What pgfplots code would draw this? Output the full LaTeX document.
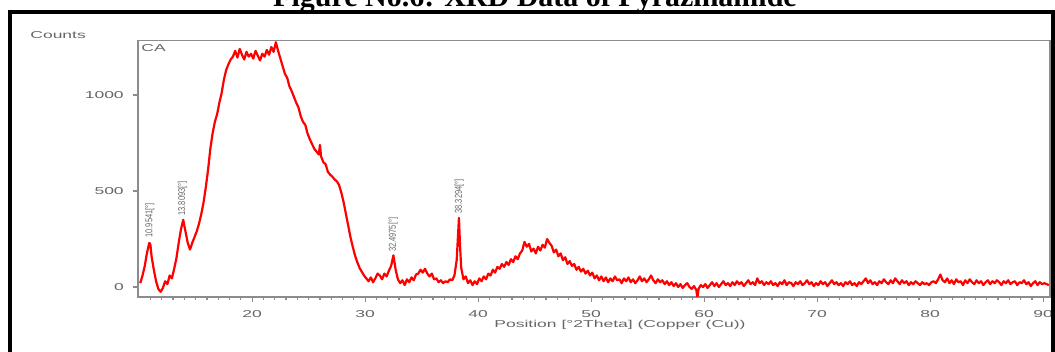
\documentclass[border=0pt]{standalone}
\usepackage{pgfplots}
\pgfplotsset{compat=1.18}
\usepackage{fontspec}
\setmainfont{Liberation Sans}
\newfontfamily\titlefont{Liberation Serif}
\usepackage{graphicx}
\definecolor{txtgray}{gray}{0.40}
\definecolor{axgray}{gray}{0.55}
% wide, light lettering of the diffractometer software
\newcommand{\tk}[1]{\scalebox{1.75}[1]{\fontsize{5}{6}\selectfont #1}}
\newcommand{\plab}[1]{\scalebox{0.75}[1]{\fontsize{5}{6}\selectfont #1}}

\pgfplotstableread{
x y
10.1 20
10.3 60
10.5 110
10.7 180
10.9 230
11.0 220
11.1 160
11.3 90
11.5 30
11.7 -10
11.9 -25
12.1 -5
12.3 30
12.5 15
12.7 60
12.9 45
13.1 95
13.3 150
13.5 230
13.7 300
13.9 350
14.1 290
14.3 230
14.5 195
14.7 230
14.9 260
15.1 290
15.3 330
15.5 380
15.7 440
15.9 520
16.1 610
16.3 720
16.5 800
16.7 860
16.9 900
17.1 960
17.3 1010
17.5 1080
17.7 1130
17.9 1160
18.1 1185
18.3 1200
18.5 1230
18.7 1195
18.9 1240
19.1 1210
19.3 1185
19.5 1225
19.7 1200
19.9 1215
20.1 1190
20.3 1230
20.5 1205
20.7 1180
20.9 1215
21.1 1200
21.3 1235
21.5 1210
21.7 1250
21.9 1225
22.1 1275
22.3 1230
22.5 1190
22.7 1150
22.9 1110
23.1 1090
23.3 1045
23.5 1020
23.7 990
23.9 960
24.1 935
24.3 890
24.5 860
24.7 845
24.9 800
25.1 770
25.3 745
25.5 720
25.7 705
25.9 690
26.0 740
26.1 680
26.3 650
26.5 640
26.7 600
26.9 585
27.1 575
27.3 560
27.5 550
27.7 530
27.9 490
28.1 440
28.3 380
28.5 320
28.7 260
28.9 210
29.1 165
29.3 130
29.5 100
29.7 80
29.9 60
30.1 45
30.3 30
30.5 50
30.7 25
30.9 45
31.1 70
31.3 60
31.5 40
31.7 70
31.9 55
32.1 85
32.3 110
32.5 165
32.7 90
32.9 40
33.1 20
33.3 35
33.5 10
33.7 40
33.9 25
34.1 50
34.3 35
34.5 65
34.7 70
34.9 90
35.1 75
35.3 95
35.5 70
35.7 55
35.9 70
36.1 40
36.3 45
36.5 25
36.7 35
36.9 20
37.1 30
37.3 25
37.5 40
37.7 35
37.9 60
38.1 140
38.2 250
38.3 360
38.4 210
38.5 100
38.7 40
38.9 55
39.1 20
39.3 35
39.5 10
39.7 30
39.9 15
40.1 45
40.3 30
40.5 55
40.7 40
40.9 70
41.1 60
41.3 90
41.5 75
41.7 105
41.9 95
42.1 120
42.3 105
42.5 130
42.7 115
42.9 145
43.1 130
43.3 160
43.5 145
43.7 175
43.9 190
44.1 235
44.3 210
44.5 225
44.7 185
44.9 200
45.1 175
45.3 210
45.5 190
45.7 220
45.9 205
46.1 250
46.3 230
46.5 215
46.7 180
46.9 195
47.1 160
47.3 175
47.5 140
47.7 155
47.9 120
48.1 135
48.3 110
48.5 120
48.7 90
48.9 105
49.1 80
49.3 95
49.5 70
49.7 85
49.9 60
50.1 75
50.3 45
50.5 60
50.7 35
50.9 55
51.1 30
51.3 50
51.5 25
51.7 45
51.9 30
52.1 55
52.3 35
52.5 40
52.7 20
52.9 45
53.1 30
53.3 50
53.5 25
53.7 40
53.9 20
54.1 35
54.3 55
54.5 30
54.7 45
54.9 25
55.1 40
55.3 60
55.5 35
55.7 20
55.9 40
56.1 25
56.3 35
56.5 15
56.7 30
56.9 10
57.1 25
57.3 5
57.5 20
57.7 0
57.9 15
58.1 -5
58.3 10
58.5 20
58.7 0
58.9 -10
59.1 5
59.3 -15
59.4 -55
59.5 -10
59.7 10
59.9 0
60.1 15
60.3 -5
60.5 10
60.7 25
60.9 5
61.1 20
61.3 0
61.5 15
61.7 30
61.9 10
62.1 20
62.3 5
62.5 25
62.7 10
62.9 30
63.1 15
63.3 25
63.5 5
63.7 20
63.9 35
64.1 15
64.3 25
64.5 10
64.7 45
64.9 20
65.1 30
65.3 10
65.5 25
65.7 15
65.9 30
66.1 10
66.3 20
66.5 5
66.7 25
66.9 15
67.1 35
67.3 10
67.5 25
67.7 20
67.9 5
68.1 25
68.3 15
68.5 30
68.7 10
68.9 20
69.1 35
69.3 15
69.5 25
69.7 5
69.9 20
70.1 10
70.3 30
70.5 15
70.7 25
70.9 5
71.1 20
71.3 35
71.5 15
71.7 25
71.9 10
72.1 20
72.3 5
72.5 25
72.7 15
72.9 30
73.1 10
73.3 20
73.5 5
73.7 25
73.9 15
74.1 30
74.3 45
74.5 20
74.7 35
74.9 15
75.1 25
75.3 10
75.5 30
75.7 20
75.9 40
76.1 25
76.3 15
76.5 35
76.7 20
76.9 45
77.1 30
77.3 15
77.5 35
77.7 20
77.9 30
78.1 10
78.3 25
78.5 15
78.7 30
78.9 20
79.1 10
79.3 25
79.5 15
79.7 20
79.9 10
80.1 25
80.3 30
80.5 20
80.7 40
80.9 65
81.1 35
81.3 25
81.5 45
81.7 20
81.9 35
82.1 15
82.3 40
82.5 25
82.7 30
82.9 10
83.1 35
83.3 20
83.5 40
83.7 25
83.9 15
84.1 35
84.3 20
84.5 30
84.7 10
84.9 25
85.1 35
85.3 15
85.5 30
85.7 20
85.9 35
86.1 25
86.3 10
86.5 30
86.7 20
86.9 35
87.1 15
87.3 25
87.5 30
87.7 10
87.9 25
88.1 20
88.3 35
88.5 15
88.7 25
88.9 5
89.1 20
89.3 30
89.5 10
89.7 25
89.9 15
90.1 20
90.5 10
}\xrd

\begin{document}
\begin{tikzpicture}
\useasboundingbox (0,0) rectangle (527.5pt,176pt);
\clip (0,0) rectangle (527.5pt,176pt);

\begin{axis}[
  at={(69pt,27.5pt)}, anchor=south west,
  scale only axis, width=456pt, height=128.15pt,
  xmin=9.9, xmax=90.6, ymin=-52, ymax=1283,
  xtick={20,30,...,90},
  xticklabels={\tk{20},\tk{30},\tk{40},\tk{50},\tk{60},\tk{70},\tk{80},\tk{90}},
  minor xtick={11,12,...,90},
  ytick={0,500,1000},
  yticklabels={\tk{0},\tk{500},\tk{1000}},
  xtick pos=lower, ytick pos=left,
  tick align=outside,
  major tick length=2.6pt, minor tick length=1.4pt,
  tick style={axgray, line width=0.6pt},
  axis line style={axgray, line width=0.8pt},
  ticklabel style={text=txtgray},
  xticklabel style={yshift=-0.5pt},
  yticklabel style={xshift=-1pt},
]
\addplot[red, line width=1.1pt, line join=round] table[x=x, y=y] {\xrd};

\node[anchor=north west, text=txtgray, inner sep=1.5pt] at (rel axis cs:0,1) {\tk{CA}};
\node[rotate=90, anchor=west, text=txtgray, inner sep=1pt] at (axis cs:10.95,245) {\plab{10.9541[°]}};
\node[rotate=90, anchor=west, text=txtgray, inner sep=1pt] at (axis cs:13.85,360) {\plab{13.8093[°]}};
\node[rotate=90, anchor=west, text=txtgray, inner sep=1pt] at (axis cs:32.50,170) {\plab{32.4975[°]}};
\node[rotate=90, anchor=west, text=txtgray, inner sep=1pt] at (axis cs:38.33,370) {\plab{38.3294[°]}};
\end{axis}

% surrounding frame and caption
\draw[line width=2.2pt] (5pt,-5pt) -- (5pt,170pt) -- (526.5pt,170pt) -- (526.5pt,-5pt);
\node[anchor=base, inner sep=0pt, font=\titlefont\bfseries\fontsize{15}{18}\selectfont]
  at (267.5pt,172.5pt) {Figure No.6: XRD Data of Pyrazinamide};
\node[anchor=west, text=txtgray, inner sep=0pt] at (15pt,158.5pt) {\tk{Counts}};
\node[text=txtgray, inner sep=0pt] at (310pt,13.5pt) {\tk{Position [°2Theta] (Copper (Cu))}};
\end{tikzpicture}
\end{document}
